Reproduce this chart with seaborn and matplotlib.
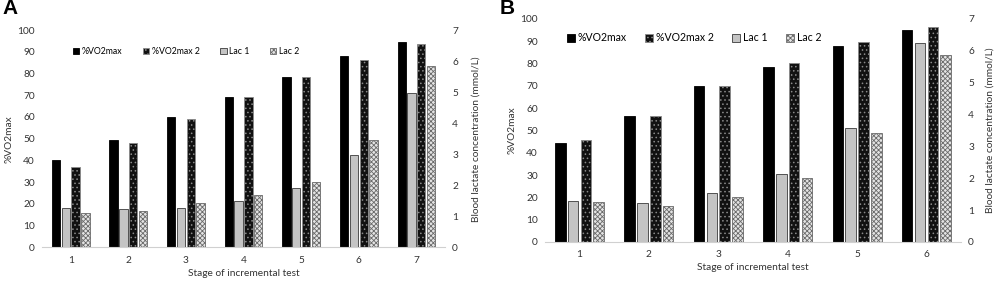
import numpy as np
import pandas as pd
import seaborn as sns
import matplotlib.pyplot as plt
from matplotlib.patches import Patch

# Panel A (7 stages)
stages_a = ["1", "2", "3", "4", "5", "6", "7"]
vo2_a = [40, 49.2, 60, 69.3, 78.2, 88, 94.3]
vo2_2_a = [37, 48.2, 59, 69.3, 78.2, 86.1, 93.5]
lac1_a = [1.27, 1.25, 1.27, 1.51, 1.90, 2.97, 4.98]
lac2_a = [1.12, 1.17, 1.42, 1.69, 2.09, 3.47, 5.83]

# Panel B (6 stages)
stages_b = ["1", "2", "3", "4", "5", "6"]
vo2_b = [44.5, 56.5, 70, 78.6, 88, 95]
vo2_2_b = [45.7, 56.3, 70, 80, 89.5, 96.3]
lac1_b = [1.30, 1.22, 1.53, 2.12, 3.58, 6.25]
lac2_b = [1.24, 1.14, 1.41, 2.02, 3.43, 5.87]

series = ["%VO2max", "Lac 1", "%VO2max 2", "Lac 2"]
legend_order = ["%VO2max", "%VO2max 2", "Lac 1", "Lac 2"]
styles = {
    "%VO2max": dict(facecolor="black", edgecolor="black", hatch=None),
    "Lac 1": dict(facecolor="#c4c4c4", edgecolor="#3a3a3a", hatch=None),
    "%VO2max 2": dict(facecolor="#111111", edgecolor="#8a8a8a", hatch="...."),
    "Lac 2": dict(facecolor="#e4e4e4", edgecolor="#6a6a6a", hatch="xxxxxxx"),
}

FONT = ["Lato", "DejaVu Sans"]
TXT = "#333333"


def make_frames(stages, vo2, vo2_2, lac1, lac2):
    left = pd.DataFrame({
        "stage": stages * 2,
        "series": ["%VO2max"] * len(stages) + ["%VO2max 2"] * len(stages),
        "value": vo2 + vo2_2,
    })
    right = pd.DataFrame({
        "stage": stages * 2,
        "series": ["Lac 1"] * len(stages) + ["Lac 2"] * len(stages),
        "value": lac1 + lac2,
    })
    return left, right


def style_bars(axis, width):
    # work out which hue slot each bar sits in from its offset
    slot_w = width / len(series)
    for p in axis.patches:
        c = p.get_x() + p.get_width() / 2
        off = c - round(c)
        slot = int(round(off / slot_w + (len(series) - 1) / 2))
        st = styles[series[slot]]
        p.set_facecolor(st["facecolor"])
        p.set_edgecolor(st["edgecolor"])
        p.set_linewidth(0.6)
        if st["hatch"]:
            p.set_hatch(st["hatch"])


def draw_panel(fig, rect, stages, vo2, vo2_2, lac1, lac2, width, gap,
               letter, letter_pos, legend_x, legend_y, legend_fs, colsp,
               tick_fs, rlabelpad):
    ax = fig.add_axes(rect)
    ax2 = ax.twinx()
    left, right = make_frames(stages, vo2, vo2_2, lac1, lac2)
    sns.barplot(data=left, x="stage", y="value", hue="series",
                hue_order=series, order=stages, ax=ax, width=width,
                gap=gap, legend=False)
    sns.barplot(data=right, x="stage", y="value", hue="series",
                hue_order=series, order=stages, ax=ax2, width=width,
                gap=gap, legend=False)
    style_bars(ax, width)
    style_bars(ax2, width)

    ax.set_ylim(0, 100)
    ax.set_yticks(np.arange(0, 101, 10))
    ax2.set_ylim(0, 7)
    ax2.set_yticks(np.arange(0, 8, 1))
    ax.set_xlim(-0.5, len(stages) - 0.5)

    for a in (ax, ax2):
        for s in ["top", "left", "right"]:
            a.spines[s].set_visible(False)
        a.spines["bottom"].set_color("#d0d0d0")
        a.tick_params(length=0, labelsize=tick_fs, colors=TXT)
        a.tick_params(axis="x", pad=6)
        a.tick_params(axis="y", pad=5)
        for lab in a.get_xticklabels() + a.get_yticklabels():
            lab.set_family(FONT)
    ax2.spines["bottom"].set_visible(False)

    ax.set_xlabel("Stage of incremental test", fontsize=tick_fs,
                  family=FONT, color=TXT, labelpad=3)
    ax.set_ylabel("%VO2max", fontsize=tick_fs, family=FONT,
                  color=TXT, labelpad=3)
    ax2.set_ylabel("Blood lactate concentration (mmol/L)", fontsize=tick_fs,
                   family=FONT, color=TXT, labelpad=rlabelpad)

    hs = [Patch(facecolor=styles[k]["facecolor"],
                edgecolor=styles[k]["edgecolor"],
                hatch=styles[k]["hatch"], linewidth=0.6)
          for k in legend_order]
    ax.legend(hs, legend_order, ncol=4, frameon=False, loc="center left",
              bbox_to_anchor=(legend_x, legend_y), borderpad=0,
              borderaxespad=0,
              handlelength=0.75, handleheight=0.75, handletextpad=0.3,
              columnspacing=colsp, prop={"family": FONT, "size": legend_fs})

    fig.text(letter_pos[0], letter_pos[1], letter, fontsize=15,
             fontweight="bold", family="Liberation Sans", va="top")
    return ax, ax2


plt.rcParams["hatch.linewidth"] = 0.6
fig = plt.figure(figsize=(9.96, 2.86), dpi=100)

draw_panel(fig, [0.042, 0.135, 0.405, 0.76], stages_a, vo2_a, vo2_2_a,
           lac1_a, lac2_a, width=0.68, gap=0.15, letter="A",
           letter_pos=(0.002, 1.005), legend_x=0.077, legend_y=0.9,
           legend_fs=6.3, colsp=2.3, tick_fs=7.3, rlabelpad=10)
draw_panel(fig, [0.547, 0.154, 0.418, 0.780], stages_b, vo2_b, vo2_2_b,
           lac1_b, lac2_b, width=0.74, gap=0.18, letter="B",
           letter_pos=(0.502, 1.005), legend_x=0.053, legend_y=0.915,
           legend_fs=7.6, colsp=1.7, tick_fs=7.3, rlabelpad=8)

fig.savefig("out.png", dpi=100)
